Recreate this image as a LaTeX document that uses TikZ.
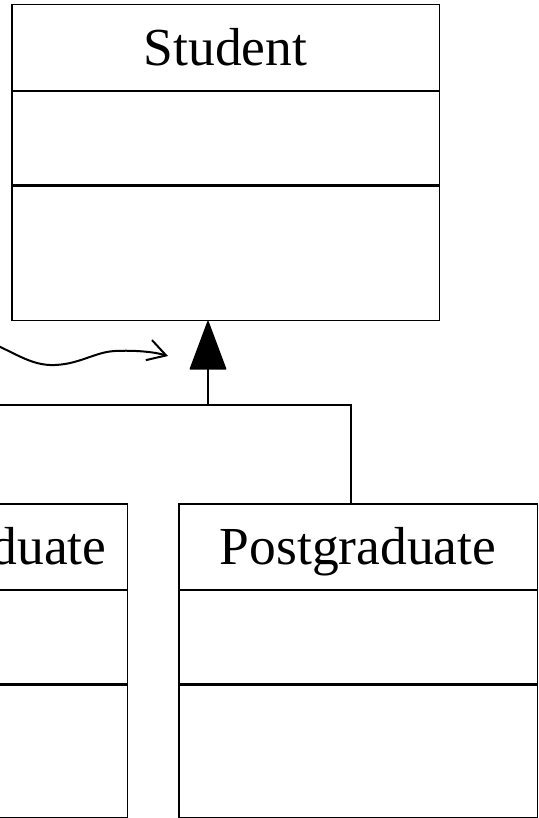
\documentclass[tikz,border=0pt]{standalone}
\usepackage{fontspec}
\setmainfont{Liberation Serif}
\usetikzlibrary{arrows.meta}
\begin{document}
\begin{tikzpicture}[x=1pt,y=-1pt,
  comp/.style={draw,line width=1.5pt,inner sep=0pt,anchor=north west,minimum width=358.7pt},
  head/.style={comp,minimum height=86pt,font=\fontsize{53.5}{60}\selectfont,text height=35.5pt,text depth=0pt},
  sepline/.style={line width=2.3pt},
  conn/.style={line width=1.5pt},
  wavy/.style={line width=2pt,-{Straight Barb[length=18pt,width=21pt,line width=2pt]}}]
\useasboundingbox (0,0) rectangle (538,818);
\clip (0,0) rectangle (538,818);
% Student
\node[head,minimum width=427.5pt] (sh) at (11,4) {Student};
\node[comp,minimum width=427.5pt,minimum height=94pt] (sa) at (11,90.5) {};
\node[comp,minimum width=427.5pt,minimum height=135pt] (so) at (11,184.5) {};
\draw[sepline] (sa.south west) -- (sa.south east);
% Undergraduate
\node[head] (ugh) at (-232,503) {Undergraduate};
\node[comp,minimum height=94pt] (uga) at (-232,589) {};
\node[comp,minimum height=134pt] (ugo) at (-232,683) {};
\draw[sepline] (uga.south west) -- (uga.south east);
% Postgraduate
\node[head] (pgh) at (178,503) {Postgraduate};
\node[comp,minimum height=94pt] (pga) at (178,589) {};
\node[comp,minimum height=134pt] (pgo) at (178,683) {};
\draw[sepline] (pga.south west) -- (pga.south east);
% generalisation
\coordinate (j) at (208,405);
\draw[conn] (ugh.north) -- ++(0,-98) -| ([xshift=-7.3pt]pgh.north);
\draw[conn,-{Triangle[length=50pt,width=37pt,round]}] (j) -- (j |- so.south);
% wavy arrow
\coordinate (ws) at (-20,338);
\coordinate (we) at (168,356);
\draw[wavy] (ws) .. controls (15,352) and (30,366) .. (55,365) .. controls (80,364) and (95,352) .. (115,351) .. controls (135,350) and (155,352) .. (we);
\end{tikzpicture}
\end{document}
